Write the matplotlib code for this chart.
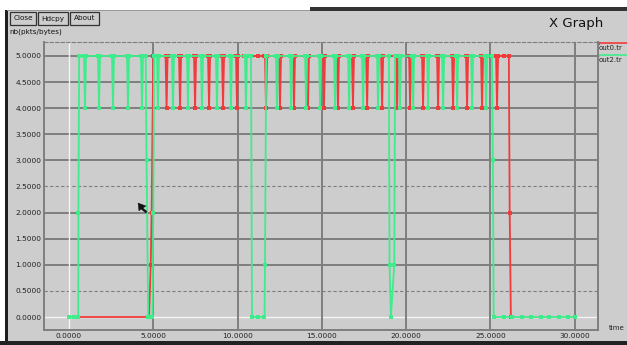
import matplotlib
matplotlib.use("Agg")
import matplotlib.pyplot as plt
from matplotlib.patches import Rectangle, Polygon
import numpy as np

# dip times (s) where each trace drops from 5 to 4 packets
out2_dips = [0.95, 1.78, 2.61, 3.50, 4.33,
             5.28, 6.17, 7.06, 7.89, 8.78, 9.61, 10.50,
             12.34, 13.18, 14.07, 14.90, 15.79, 16.62, 17.45, 18.34,
             19.64, 20.42, 21.31, 22.20, 23.03, 23.92, 24.75]
out0_dips = [5.79, 6.59, 7.48, 8.31, 9.14, 9.97,
             11.69, 12.52, 13.35, 14.18, 15.13, 15.96, 16.85, 17.69, 18.58,
             19.47, 20.24, 21.01, 21.90, 22.79, 23.62, 24.51, 25.40]

# transitions (time, value) between the dip runs
out2_start = [(0.0, 0), (0.30, 0), (0.55, 0), (0.56, 2), (0.60, 5)]
out2_gap1 = [(4.55, 5), (4.60, 3), (4.70, 0), (4.95, 0), (5.00, 2), (5.05, 5)]
out2_gap2 = [(10.80, 5), (10.86, 0), (11.20, 0), (11.60, 0), (11.63, 1), (11.70, 5)]
out2_gap3 = [(18.98, 5), (19.02, 1), (19.10, 0), (19.30, 1), (19.35, 5)]
out2_end = [(25.10, 5), (25.15, 3), (25.20, 0), (25.80, 0), (26.30, 0), (26.90, 0),
            (27.40, 0), (28.00, 0), (28.50, 0), (29.10, 0), (29.60, 0), (30.00, 0)]

out0_start = [(0.55, 0), (4.75, 0), (4.85, 1), (4.90, 2), (5.00, 5)]
out0_gap = [(10.40, 5), (10.80, 5), (11.20, 5), (11.60, 5)]
out0_end = [(25.80, 5), (26.10, 5), (26.15, 2), (26.22, 0)]

y_ticks = [0.0, 0.5, 1.0, 1.5, 2.0, 2.5, 3.0, 3.5, 4.0, 4.5, 5.0]
x_ticks = [0, 5, 10, 15, 20, 25, 30]

W, H = 627, 345
BG = "#cdcdcd"
GRID = "#7e7e7e"
RED = "#f23a3a"
GREEN = "#3fec8c"


def fx(px):
    return px / W


def fy(py):
    return 1 - py / H


def build(parts):
    pts = []
    for p in parts:
        pts.extend(p)
    pts.sort(key=lambda q: q[0])
    return np.array([q[0] for q in pts]), np.array([q[1] for q in pts])


def dips(times, h=0.06):
    pts = []
    for t in times:
        pts += [(t - h, 5), (t, 4), (t + h, 5)]
    return pts


fig = plt.figure(figsize=(W / 100, H / 100), dpi=100)
fig.patch.set_facecolor("white")

# window frame
fig.patches.append(Rectangle((fx(7), fy(341)), fx(620), 331 / H,
                             transform=fig.transFigure, facecolor=BG,
                             edgecolor="none", zorder=0))
fig.patches.append(Rectangle((fx(5), fy(341)), fx(3), 331 / H,
                             transform=fig.transFigure, facecolor="#1e1e1e",
                             edgecolor="none", zorder=1))
fig.patches.append(Rectangle((0, 0), 1, 4 / H, transform=fig.transFigure,
                             facecolor="#222222", edgecolor="none", zorder=1))
fig.patches.append(Rectangle((fx(310), fy(11)), fx(317), 4 / H,
                             transform=fig.transFigure, facecolor="#333333",
                             edgecolor="none", zorder=1))
fig.patches.append(Rectangle((fx(7), fy(11)), fx(303), 1 / H,
                             transform=fig.transFigure, facecolor="#9a9a9a",
                             edgecolor="none", zorder=1))

# buttons
for label, x0, w in [("Close", 10, 26), ("Hdcpy", 38, 30), ("About", 70, 29)]:
    fig.patches.append(Rectangle((fx(x0), fy(25)), w / W, 13 / H,
                                 transform=fig.transFigure, facecolor=BG,
                                 edgecolor="#333333", lw=0.9, zorder=2))
    fig.text(fx(x0 + w / 2), fy(18.5), label, fontsize=5.2, ha="center",
             va="center", color="#111111", zorder=3)

fig.text(fx(9), fy(32), "nb(pkts/bytes)", fontsize=5.2, ha="left",
         va="center", color="#111111")
fig.text(fx(549), fy(23), "X Graph", fontsize=9.5, ha="left",
         va="center", color="#111111")

# legend on the right edge
fig.lines.append(plt.Line2D([fx(598), 1], [fy(43), fy(43)],
                            transform=fig.transFigure, color=RED, lw=1.2))
fig.lines.append(plt.Line2D([fx(598)], [fy(43)], transform=fig.transFigure,
                            color=RED, marker="s", markersize=2))
fig.text(fx(599), fy(47.5), "out0.tr", fontsize=5, ha="left", va="center",
         color="#222222")
fig.lines.append(plt.Line2D([fx(598), 1], [fy(55), fy(55)],
                            transform=fig.transFigure, color=GREEN, lw=1.2))
fig.lines.append(plt.Line2D([fx(598)], [fy(55)], transform=fig.transFigure,
                            color=GREEN, marker="s", markersize=2))
fig.text(fx(599), fy(59.5), "out2.tr", fontsize=5, ha="left", va="center",
         color="#222222")
fig.text(fx(609), fy(328), "time", fontsize=5, ha="left", va="center",
         color="#222222")

# plot area
ax = fig.add_axes([fx(44), fy(330), 554 / W, 288 / H])
ax.set_zorder(5)
ax.set_facecolor(BG)
ax.set_xlim(-1.484, 31.39)
ax.set_ylim(-0.249, 5.268)

for y in y_ticks:
    if y == 0:
        ax.axhline(y, color="#f4f4f4", lw=1.0, zorder=1)
    elif y in (0.5, 2.5):
        ax.axhline(y, color=GRID, lw=0.8, ls=(0, (3, 2)), zorder=1)
    else:
        ax.axhline(y, color=GRID, lw=1.4, zorder=1)
for x in x_ticks:
    if x == 0:
        ax.axvline(x, color="#f4f4f4", lw=1.0, zorder=1)
    else:
        ax.axvline(x, color=GRID, lw=1.4, zorder=1)

for side in ("left", "bottom", "right"):
    ax.spines[side].set_color(GRID)
    ax.spines[side].set_linewidth(1.4)
ax.spines["top"].set_color(GRID)
ax.spines["top"].set_linestyle((0, (3, 2)))

ax.set_yticks(y_ticks)
ax.set_yticklabels(["%.4f" % v for v in y_ticks])
ax.set_xticks(x_ticks)
ax.set_xticklabels(["%.4f" % v for v in x_ticks])
ax.tick_params(length=0, labelsize=5.3, colors="#222222", pad=2)

t0, v0 = build([out0_start, dips(out0_dips), out0_gap, out0_end])
t2, v2 = build([out2_start, dips(out2_dips), out2_gap1, out2_gap2,
                out2_gap3, out2_end])

ax.plot(t0, v0, color=RED, lw=1.3, marker="s", markersize=2.2,
        markeredgewidth=0, zorder=3)
ax.plot(t2, v2, color=GREEN, lw=1.3, marker="s", markersize=2.2,
        markeredgewidth=0, zorder=4)

# mouse pointer left on the plot
fig.patches.append(Polygon([(fx(138), fy(203)), (fx(139), fy(211)),
                            (fx(141), fy(209)), (fx(146), fy(213)),
                            (fx(147), fy(211.5)), (fx(143), fy(208)),
                            (fx(146), fy(206))],
                           closed=True, transform=fig.transFigure,
                           facecolor="#111111", edgecolor="#111111",
                           lw=0.3, zorder=10))

fig.savefig("out.png", dpi=100, facecolor=fig.get_facecolor())
